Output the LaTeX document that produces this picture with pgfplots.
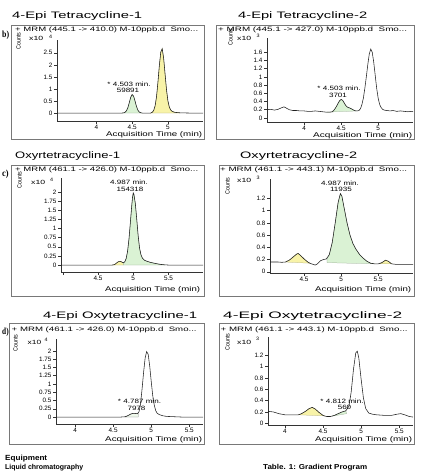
\documentclass[border=0pt]{standalone}
\usepackage{fontspec}
\setmainfont{Liberation Sans}
\newfontfamily\serifb{Liberation Serif}
\usepackage{graphicx}
\usepackage{pgfplots}
\pgfplotsset{compat=1.18}
\definecolor{pkg}{RGB}{218,242,212}
\definecolor{pky}{RGB}{248,243,168}
\definecolor{pkw}{RGB}{238,248,235}
\definecolor{frm}{RGB}{120,120,120}
\definecolor{trc}{RGB}{30,30,30}
\pgfplotsset{
 chrom/.style={
  scale only axis, anchor=south west,
  axis x line=bottom, axis y line=left,
  axis line style={-, line width=0.6bp, black!80},
  tick align=outside,
  major tick length=3bp,
  tick style={line width=0.5bp, black!80},
  yticklabel style={font=\fontsize{6.3bp}{7bp}\selectfont, inner sep=1.5bp},
  xticklabel style={font=\fontsize{6.4bp}{7bp}\selectfont, inner sep=1bp},
  /pgf/number format/assume math mode=true,
  enlargelimits=false, clip=true,
 },
 trace/.style={trc, line width=0.55bp, mark=none},
 fy/.style={fill=pky, draw=pky!70!black, line width=0.25bp, mark=none},
 fg/.style={fill=pkg, draw=pkg!70!black, line width=0.25bp, mark=none},
 fw/.style={fill=pkw, draw=black!50, line width=0.25bp, mark=none},
}
\newcommand{\T}[5]{\node[anchor=base west,inner sep=0pt] at (#1,#2) {\resizebox{#3bp}{#4bp}{#5}};}
\newcommand{\A}[3]{\node[anchor=base,inner sep=0pt] at (#1,#2) {\scalebox{1.3}[1]{\fontsize{6.2bp}{7bp}\selectfont #3}};}
\newcommand{\C}[2]{\node[rotate=90,inner sep=0pt] at (#1,#2) {\resizebox{17bp}{4.3bp}{Counts}};}
\begin{document}
\begin{tikzpicture}
\useasboundingbox (0,0) rectangle (421bp,472bp);
% ---------- panel 1
\begin{axis}[chrom, at={(57bp,351bp)}, width=146bp, height=81bp,
  xmin=3.45, xmax=5.49, ymin=-0.33, ymax=3.03,
  xtick={4,4.5,5}, ytick={0,0.5,1,1.5,2,2.5}]
\addplot[fg] coordinates {(4.37,0)(4.38,0.007)(4.40,0.028)(4.42,0.089)(4.44,0.223)(4.46,0.432)(4.48,0.652)(4.50,0.768)(4.52,0.704)(4.54,0.502)(4.56,0.279)(4.58,0.121)(4.60,0.041)(4.62,0.011)(4.64,0)} -- cycle;
\addplot[fy] coordinates {(4.76,0)(4.78,0.03)(4.80,0.10)(4.82,0.29)(4.84,0.66)(4.86,1.27)(4.88,1.97)(4.90,2.53)(4.92,2.67)(4.94,2.28)(4.96,1.62)(4.98,0.97)(5.00,0.50)(5.02,0.24)(5.04,0.12)(5.06,0.07)(5.08,0.045)(5.10,0.03)(5.14,0.015)(5.16,0)} -- cycle;
\addplot[trace] coordinates {(3.45,0)(4.36,0)(4.38,0.007)(4.40,0.028)(4.42,0.089)(4.44,0.223)(4.46,0.432)(4.48,0.652)(4.50,0.768)(4.52,0.704)(4.54,0.502)(4.56,0.279)(4.58,0.121)(4.60,0.041)(4.62,0.011)(4.64,0)(4.76,0)(4.78,0.03)(4.80,0.10)(4.82,0.29)(4.84,0.66)(4.86,1.27)(4.88,1.97)(4.90,2.53)(4.92,2.67)(4.94,2.28)(4.96,1.62)(4.98,0.97)(5.00,0.50)(5.02,0.24)(5.04,0.12)(5.06,0.07)(5.08,0.045)(5.10,0.03)(5.14,0.015)(5.20,0.006)(5.30,0)(5.49,0)};
\end{axis}
% ---------- panel 2
\begin{axis}[chrom, at={(267bp,350bp)}, width=146bp, height=84bp,
  xmin=3.5, xmax=5.47, ymin=-0.1, ymax=1.95,
  xtick={4,4.5,5}, ytick={0,0.2,0.4,0.6,0.8,1,1.2,1.4,1.6}]
\addplot[fg] coordinates {(4.30,0.14)(4.35,0.14)(4.38,0.15)(4.40,0.18)(4.42,0.23)(4.44,0.29)(4.46,0.36)(4.48,0.42)(4.50,0.45)(4.52,0.43)(4.54,0.37)(4.56,0.31)(4.58,0.27)(4.60,0.25)(4.62,0.24)(4.64,0.22)(4.66,0.20)(4.68,0.18)(4.70,0.17)(4.72,0.17)} -- cycle;
\addplot[trace] coordinates {(3.50,0.20)(3.55,0.21)(3.60,0.19)(3.65,0.21)(3.70,0.25)(3.73,0.27)(3.76,0.24)(3.80,0.20)(3.85,0.18)(3.90,0.18)(3.95,0.17)(4.00,0.17)(4.05,0.16)(4.10,0.16)(4.15,0.17)(4.20,0.16)(4.25,0.15)(4.30,0.14)(4.35,0.14)(4.38,0.15)(4.40,0.18)(4.42,0.23)(4.44,0.29)(4.46,0.36)(4.48,0.42)(4.50,0.45)(4.52,0.43)(4.54,0.37)(4.56,0.31)(4.58,0.27)(4.60,0.25)(4.62,0.24)(4.64,0.22)(4.66,0.20)(4.68,0.18)(4.70,0.17)(4.72,0.17)(4.74,0.18)(4.76,0.22)(4.78,0.32)(4.80,0.48)(4.82,0.72)(4.84,1.00)(4.86,1.30)(4.88,1.56)(4.90,1.68)(4.92,1.60)(4.94,1.36)(4.96,1.04)(4.98,0.72)(5.00,0.48)(5.02,0.33)(5.04,0.25)(5.06,0.21)(5.08,0.19)(5.12,0.18)(5.16,0.17)(5.20,0.18)(5.25,0.16)(5.30,0.17)(5.35,0.16)(5.40,0.15)(5.45,0.16)(5.47,0.15)};
\end{axis}
% ---------- panel 3
\begin{axis}[chrom, at={(61bp,200bp)}, width=142bp, height=94bp,
  xmin=3.975, xmax=5.99, ymin=-0.19, ymax=2.38,
  xtick={4,4.5,5,5.5}, xticklabels={{},4.5,5,5.5}, ytick={0,0.25,0.5,0.75,1,1.25,1.5,1.75,2}]
\addplot[fy] coordinates {(4.71,0)(4.72,0.005)(4.74,0.02)(4.76,0.05)(4.78,0.08)(4.80,0.10)(4.82,0.10)(4.84,0.08)(4.86,0.06)(4.86,0)} -- cycle;
\addplot[fg] coordinates {(4.86,0)(4.86,0.06)(4.88,0.09)(4.90,0.18)(4.92,0.38)(4.94,0.72)(4.96,1.18)(4.98,1.65)(4.99,1.85)(5.00,1.97)(5.01,1.93)(5.03,1.68)(5.05,1.25)(5.07,0.80)(5.09,0.46)(5.11,0.28)(5.13,0.19)(5.16,0.13)(5.20,0.10)(5.25,0.07)(5.30,0.05)(5.35,0.03)(5.40,0.015)(5.45,0.005)(5.45,0)} -- cycle;
\addplot[trace] coordinates {(3.975,0)(4.70,0)(4.72,0.005)(4.74,0.02)(4.76,0.05)(4.78,0.08)(4.80,0.10)(4.82,0.10)(4.84,0.08)(4.86,0.06)(4.88,0.09)(4.90,0.18)(4.92,0.38)(4.94,0.72)(4.96,1.18)(4.98,1.65)(4.99,1.85)(5.00,1.97)(5.01,1.93)(5.03,1.68)(5.05,1.25)(5.07,0.80)(5.09,0.46)(5.11,0.28)(5.13,0.19)(5.16,0.13)(5.20,0.10)(5.25,0.07)(5.30,0.05)(5.35,0.03)(5.40,0.015)(5.45,0.005)(5.50,0)(5.99,0)};
\end{axis}
% ---------- panel 4
\begin{axis}[chrom, at={(270bp,199bp)}, width=143bp, height=94bp,
  xmin=4.04, xmax=5.97, ymin=-0.02, ymax=1.52,
  xtick={4.5,5,5.5}, ytick={0,0.2,0.4,0.6,0.8,1,1.2}]
\addplot[fy] coordinates {(4.25,0.16)(4.30,0.19)(4.35,0.24)(4.40,0.29)(4.42,0.30)(4.45,0.27)(4.50,0.21)(4.55,0.16)(4.58,0.14)} -- cycle;
\addplot[fg] coordinates {(4.81,0.15)(4.81,0.21)(4.84,0.28)(4.88,0.48)(4.92,0.80)(4.96,1.14)(4.99,1.28)(5.01,1.24)(5.04,1.05)(5.08,0.80)(5.12,0.60)(5.16,0.46)(5.20,0.37)(5.25,0.28)(5.30,0.22)(5.35,0.17)(5.40,0.14)(5.45,0.13)} -- cycle;
\addplot[fy] coordinates {(5.52,0.13)(5.55,0.15)(5.60,0.19)(5.64,0.17)(5.68,0.13)} -- cycle;
\addplot[trace] coordinates {(4.04,0.16)(4.10,0.16)(4.15,0.16)(4.20,0.155)(4.25,0.16)(4.30,0.19)(4.35,0.24)(4.40,0.29)(4.42,0.30)(4.45,0.27)(4.50,0.21)(4.55,0.16)(4.58,0.14)(4.60,0.13)(4.65,0.11)(4.68,0.13)(4.72,0.18)(4.76,0.20)(4.80,0.21)(4.84,0.28)(4.88,0.48)(4.92,0.80)(4.96,1.14)(4.99,1.28)(5.01,1.24)(5.04,1.05)(5.08,0.80)(5.12,0.60)(5.16,0.46)(5.20,0.37)(5.25,0.28)(5.30,0.22)(5.35,0.17)(5.40,0.14)(5.45,0.13)(5.50,0.13)(5.55,0.15)(5.60,0.19)(5.64,0.17)(5.68,0.13)(5.75,0.12)(5.85,0.12)(5.97,0.12)};
\end{axis}
% ---------- panel 5
\begin{axis}[chrom, at={(56bp,48bp)}, width=147bp, height=85bp,
  xmin=3.75, xmax=5.68, ymin=-0.21, ymax=2.36,
  xtick={4,4.5,5,5.5}, ytick={0,0.25,0.5,0.75,1,1.25,1.5,1.75,2}]
\addplot[fw] coordinates {(4.66,0)(4.66,0.01)(4.70,0.05)(4.73,0.09)(4.76,0.11)(4.79,0.11)(4.82,0.10)(4.83,0.11)(4.83,0)} -- cycle;
\addplot[trace] coordinates {(3.75,0)(4.60,0)(4.66,0.01)(4.70,0.05)(4.73,0.09)(4.76,0.11)(4.79,0.11)(4.82,0.10)(4.84,0.16)(4.86,0.40)(4.88,0.85)(4.90,1.35)(4.92,1.78)(4.94,1.98)(4.96,1.90)(4.98,1.55)(5.00,1.08)(5.02,0.65)(5.04,0.36)(5.06,0.19)(5.08,0.11)(5.11,0.07)(5.15,0.04)(5.20,0.02)(5.30,0.01)(5.40,0)(5.68,0)};
\end{axis}
% ---------- panel 6
\begin{axis}[chrom, at={(268bp,47bp)}, width=145bp, height=88bp,
  xmin=3.78, xmax=5.68, ymin=-0.03, ymax=1.52,
  xtick={4,4.5,5,5.5}, ytick={0,0.2,0.4,0.6,0.8,1,1.2}]
\addplot[fy] coordinates {(4.18,0.15)(4.22,0.17)(4.27,0.21)(4.32,0.26)(4.36,0.28)(4.40,0.25)(4.45,0.19)(4.50,0.14)(4.52,0.13)} -- cycle;
\addplot[fg] coordinates {(4.62,0.125)(4.65,0.14)(4.70,0.17)(4.75,0.20)(4.80,0.22)(4.81,0.17)} -- cycle;
\addplot[trace] coordinates {(3.78,0.21)(3.85,0.20)(3.92,0.17)(4.00,0.15)(4.10,0.15)(4.18,0.15)(4.22,0.17)(4.27,0.21)(4.32,0.26)(4.36,0.28)(4.40,0.25)(4.45,0.19)(4.50,0.14)(4.52,0.13)(4.55,0.12)(4.60,0.12)(4.65,0.14)(4.70,0.17)(4.75,0.20)(4.80,0.22)(4.84,0.30)(4.87,0.55)(4.90,0.95)(4.93,1.24)(4.95,1.27)(4.97,1.15)(5.00,0.78)(5.03,0.45)(5.06,0.26)(5.10,0.18)(5.15,0.16)(5.20,0.15)(5.30,0.14)(5.40,0.14)(5.47,0.16)(5.52,0.17)(5.57,0.15)(5.63,0.12)(5.68,0.11)};
\end{axis}
% ---------- texts and frames (image pixel coordinates, y downwards)
\begin{scope}[x=1bp,y=-1bp,shift={(0bp,472bp)}]
\draw[frm, line width=0.8bp] (11.7,25) rectangle (204,139.3);
\draw[frm, line width=0.8bp] (216,25) rectangle (414.5,139.3);
\draw[frm, line width=0.8bp] (11.7,165) rectangle (204,296);
\draw[frm, line width=0.8bp] (219,165) rectangle (414.5,296);
\draw[frm, line width=0.8bp] (9.5,323) rectangle (204,444.3);
\draw[frm, line width=0.8bp] (219,323) rectangle (414.5,444.3);
% titles
\T{12}{18.4}{130}{6.8}{4-Epi Tetracycline-1}
\T{238}{18.4}{129}{6.8}{4-Epi Tetracycline-2}
\T{15}{158.4}{105}{6.8}{Oxyrtetracycline-1}
\T{240}{158.4}{117}{6.8}{Oxyrtetracycline-2}
\T{43}{318.4}{154}{6.8}{4-Epi Oxytetracycline-1}
\T{223}{318.4}{179}{6.8}{4-Epi Oxytetracycline-2}
% headers
\T{15}{31.2}{183}{4.6}{+ MRM (445.1 -> 410.0) M-10ppb.d\ \ Smo...}
\T{218}{31.2}{189}{4.6}{+ MRM (445.1 -> 427.0) M-10ppb.d\ \ Smo...}
\T{15}{171.2}{183}{4.6}{+ MRM (461.1 -> 426.0) M-10ppb.d\ \ Smo...}
\T{220}{171.2}{187}{4.6}{+ MRM (461.1 -> 443.1) M-10ppb.d\ \ Smo...}
\T{11.5}{331.5}{185}{4.6}{+ MRM (461.1 -> 426.0) M-10ppb.d\ \ Smo...}
\T{220.5}{331.5}{187}{4.6}{+ MRM (461.1 -> 443.1) M-10ppb.d\ \ Smo...}
% panel letters
\T{2}{37.5}{7}{6.5}{\serifb\bfseries b)}
\T{2}{176.5}{6.5}{6.5}{\serifb\bfseries c)}
\T{2}{334.5}{6.5}{6.5}{\serifb\bfseries d)}
% Counts
\C{18.5}{41}
\C{230.5}{37}
\C{19.5}{180}
\C{227.5}{186}
\C{15.5}{343}
\C{227.5}{342}
% multipliers
\T{29}{41}{14}{4.2}{x10}\T{49}{38.5}{3}{3.4}{4}
\T{237}{41}{14}{4.2}{x10}\T{256.5}{38}{3}{3.4}{3}
\T{31}{184.7}{14}{4.2}{x10}\T{50}{182}{3}{3.4}{4}
\T{237}{182.7}{14}{4.2}{x10}\T{256.5}{179.7}{3}{3.4}{3}
\T{27.5}{344.3}{13.5}{4.2}{x10}\T{44.5}{341.3}{3}{3.4}{4}
\T{237}{344.3}{14}{4.2}{x10}\T{256}{341}{3}{3.4}{3}
% x labels
\T{106}{137}{96}{5.0}{Acquisition Time (min)}
\T{313}{137.6}{99}{5.0}{Acquisition Time (min)}
\T{105}{291.5}{95}{5.0}{Acquisition Time (min)}
\T{315}{291.5}{96}{5.0}{Acquisition Time (min)}
\T{105}{442}{97}{5.0}{Acquisition Time (min)}
\T{315}{442}{97}{5.0}{Acquisition Time (min)}
% annotations
\A{129}{86.2}{* 4.503 min.}
\A{128}{92.4}{59891}
\A{339}{90.5}{* 4.503 min.}
\A{338}{97.2}{3701}
\A{129}{185}{4.987 min.}
\A{130}{191.3}{154318}
\A{340}{185.5}{4.987 min.}
\A{341}{191.2}{11935}
\A{139.5}{404}{* 4.787 min.}
\A{136.5}{410.5}{7978}
\A{342}{403.5}{* 4.812 min.}
\A{344.5}{409.5}{560}
% page text below
\T{5}{461}{42}{5.4}{\bfseries Equipment}
\T{5}{469.8}{78}{5.2}{\bfseries Liquid chromatography}
\T{263}{469.8}{104}{5.2}{\bfseries Table. 1: Gradient Program}
\end{scope}
\end{tikzpicture}
\end{document}
